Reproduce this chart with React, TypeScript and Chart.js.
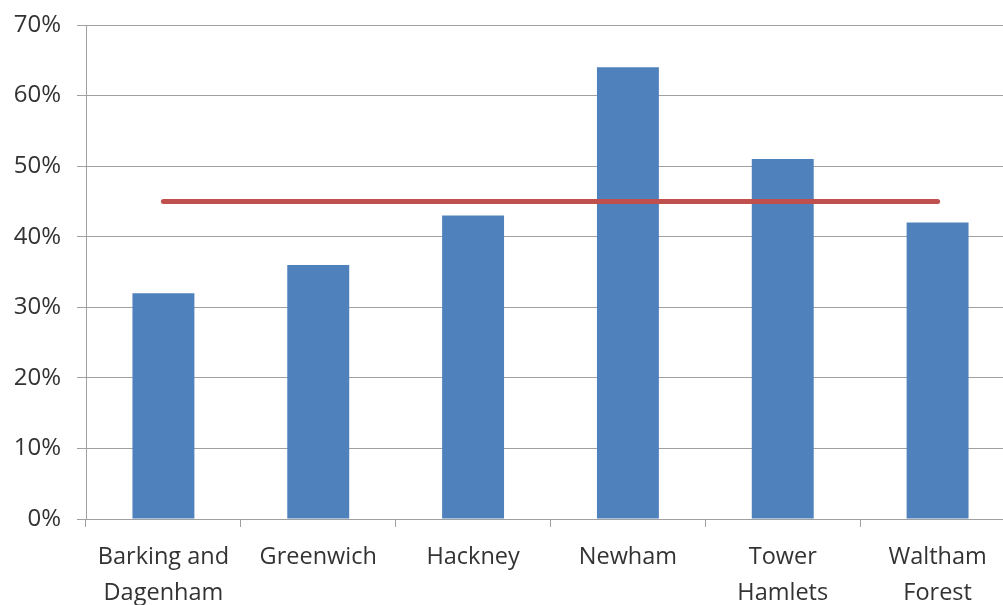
import React, { useEffect, useRef } from "react";
import { Chart, registerables } from "chart.js";

Chart.register(...registerables);

const categories: (string | string[])[] = [
  ["Barking and", "Dagenham"],
  "Greenwich",
  "Hackney",
  "Newham",
  ["Tower", "Hamlets"],
  ["Waltham", "Forest"],
];
const barValues = [32, 36, 43, 64, 51, 42];
const referenceLine = [45, 45, 45, 45, 45, 45];
const yTicks = [0, 10, 20, 30, 40, 50, 60, 70];

const FONT = "Open Sans";

export default function App() {
  const ref = useRef<HTMLCanvasElement | null>(null);

  useEffect(() => {
    if (!ref.current) return;
    const chart = new Chart(ref.current, {
      type: "bar",
      data: {
        labels: categories,
        datasets: [
          {
            type: "line",
            data: referenceLine,
            borderColor: "#c0504d",
            borderWidth: 5,
            pointRadius: 0,
            borderCapStyle: "round",
            order: 0,
          } as any,
          {
            type: "bar",
            data: barValues,
            backgroundColor: "#4f81bd",
            barPercentage: 0.8,
            categoryPercentage: 0.5,
            order: 1,
          },
        ],
      },
      options: {
        animation: false,
        responsive: false,
        maintainAspectRatio: false,
        layout: { padding: { top: 0, left: 0, right: 0, bottom: 0 } },
        plugins: { legend: { display: false }, tooltip: { enabled: false } },
        scales: {
          x: {
            offset: true,
            grid: {
              drawOnChartArea: false,
              drawTicks: true,
              tickLength: 8,
              color: "#a0a0a0",
              offset: true,
            },
            border: { display: true, color: "#a0a0a0", width: 1 },
            ticks: {
              color: "#333333",
              font: { family: FONT, size: 23.5, lineHeight: 1.5 },
              padding: 13,
              maxRotation: 0,
              autoSkip: false,
            },
            afterFit: (scale: any) => {
              scale.height = 86;
            },
          },
          y: {
            min: 0,
            max: 70,
            afterBuildTicks: (scale: any) => {
              scale.ticks = yTicks.map((v) => ({ value: v }));
            },
            grid: {
              color: "#a0a0a0",
              lineWidth: 1,
              drawTicks: true,
              tickLength: 9,
            },
            border: { display: true, color: "#a0a0a0", width: 1 },
            ticks: {
              color: "#333333",
              font: { family: FONT, size: 24 },
              padding: 16,
              callback: (v: any) => v + "%",
            },
            afterFit: (scale: any) => {
              scale.width = 86;
              scale.paddingTop = 25;
              scale.paddingBottom = 0;
            },
          },
        },
      },
    });
    return () => chart.destroy();
  }, []);

  return (
    <div
      style={{
        position: "fixed",
        left: 0,
        top: 0,
        width: 1003,
        height: 605,
        overflow: "hidden",
        background: "#ffffff",
      }}
    >
      <canvas
        ref={ref}
        width={1015}
        height={605}
        style={{ width: 1015, height: 605, display: "block" }}
      />
    </div>
  );
}
